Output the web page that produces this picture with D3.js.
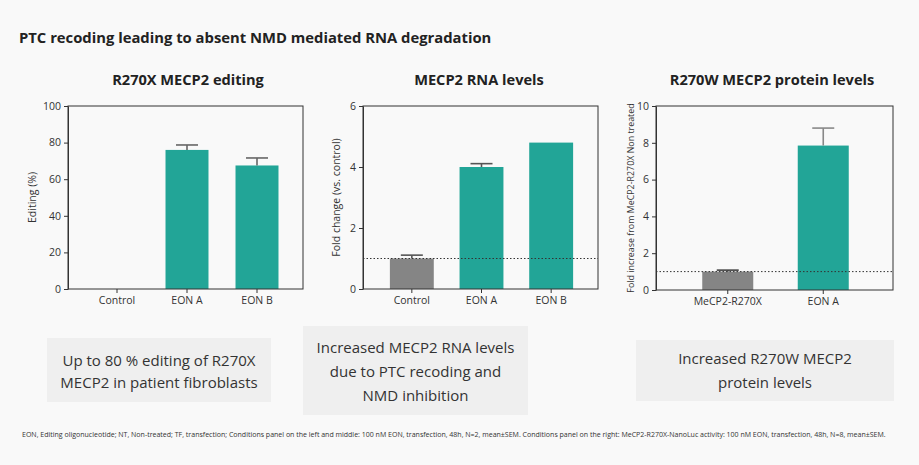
<!DOCTYPE html>
<html>
<head>
<meta charset="utf-8">
<script src="https://cdn.jsdelivr.net/npm/d3@7"></script>
<style>
  html, body { margin: 0; padding: 0; background: #f9f9f9; }
  svg { display: block; font-family: "Open Sans", "Noto Sans", sans-serif; }
</style>
</head>
<body>
<svg id="chart" width="919" height="465"></svg>
<script>
// data
const editCategories = ["Control", "EON A", "EON B"]
const editValues = [0, 76, 67.5]
const editErrors = [null, 2.7, 4.1]
const editTicks = [0, 20, 40, 60, 80, 100]

const rnaCategories = ["Control", "EON A", "EON B"]
const rnaValues = [1.0, 4.0, 4.8]
const rnaErrors = [0.11, 0.11, null]
const rnaTicks = [0, 2, 4, 6]

const protCategories = ["MeCP2-R270X", "EON A"]
const protValues = [1.0, 7.85]
const protErrors = [0.08, 0.95]
const protTicks = [0, 2, 4, 6, 8, 10]

const teal = "#22a597"
const grey = "#858585"

const svg = d3.select("#chart")

svg.append("text")
  .attr("x", 19).attr("y", 43)
  .attr("font-size", 14.8).attr("font-weight", 700).attr("fill", "#222")
  .text("PTC recoding leading to absent NMD mediated RNA degradation")

const panels = [
  {
    title: "R270X MECP2 editing", titleX: 188,
    ylabel: "Editing (%)", ylabelX: 32, ylabelSize: 10.5,
    cats: editCategories, vals: editValues, errs: editErrors, ticks: editTicks,
    colors: [teal, teal, teal], errColors: ["#666", "#666", "#666"],
    left: 68, right: 303, top: 106, bottom: 289,
    band: [82, 292], pad: 0.386, ref: null
  },
  {
    title: "MECP2 RNA levels", titleX: 479,
    ylabel: "Fold change (vs. control)", ylabelX: 336, ylabelSize: 10.5,
    cats: rnaCategories, vals: rnaValues, errs: rnaErrors, ticks: rnaTicks,
    colors: [grey, teal, teal], errColors: ["#555", "#555", "#555"],
    left: 363, right: 598, top: 106, bottom: 289,
    band: [377, 586], pad: 0.37, ref: 1
  },
  {
    title: "R270W MECP2 protein levels", titleX: 772,
    ylabel: "Fold increase from MeCP2-R270X Non treated", ylabelX: 631, ylabelSize: 8.9,
    cats: protCategories, vals: protValues, errs: protErrors, ticks: protTicks,
    colors: [grey, teal], errColors: ["#444", "#888"],
    left: 656, right: 893, top: 106, bottom: 290,
    band: [680, 871], pad: 0.466, ref: 1
  }
]

panels.forEach(p => {
  const g = svg.append("g")

  const x = d3.scaleBand()
    .domain(p.cats)
    .range(p.band)
    .paddingInner(p.pad)
    .paddingOuter(p.pad / 2)

  const y = d3.scaleLinear()
    .domain([0, d3.max(p.ticks)])
    .range([p.bottom, p.top])

  g.append("text")
    .attr("x", p.titleX).attr("y", 85)
    .attr("text-anchor", "middle")
    .attr("font-size", 14.6).attr("font-weight", 700).attr("fill", "#222")
    .text(p.title)

  // bars
  const rows = p.cats.map((c, i) => ({ cat: c, val: p.vals[i], err: p.errs[i], i }))

  g.selectAll(".bar")
    .data(rows.filter(d => d.val > 0))
    .enter().append("rect")
    .attr("x", d => x(d.cat))
    .attr("width", x.bandwidth())
    .attr("y", d => y(d.val))
    .attr("height", d => y(0) - y(d.val))
    .attr("fill", d => p.colors[d.i])

  // error bars (upper half only)
  const eb = g.selectAll(".err")
    .data(rows.filter(d => d.err != null && d.val > 0))
    .enter().append("g")
    .attr("stroke", d => p.errColors[d.i])
    .attr("stroke-width", 1.6)

  eb.append("line")
    .attr("x1", d => x(d.cat) + x.bandwidth() / 2)
    .attr("x2", d => x(d.cat) + x.bandwidth() / 2)
    .attr("y1", d => y(d.val))
    .attr("y2", d => y(d.val + d.err))

  eb.append("line")
    .attr("x1", d => x(d.cat) + x.bandwidth() / 2 - 11)
    .attr("x2", d => x(d.cat) + x.bandwidth() / 2 + 11)
    .attr("y1", d => y(d.val + d.err))
    .attr("y2", d => y(d.val + d.err))

  // reference line
  if (p.ref != null) {
    g.append("line")
      .attr("x1", p.left).attr("x2", p.right)
      .attr("y1", y(p.ref)).attr("y2", y(p.ref))
      .attr("stroke", "#333").attr("stroke-width", 1)
      .attr("stroke-dasharray", "1.5,2")
  }

  // frame
  g.append("rect")
    .attr("x", p.left).attr("y", p.top)
    .attr("width", p.right - p.left).attr("height", p.bottom - p.top)
    .attr("fill", "none").attr("stroke", "#333").attr("stroke-width", 1)

  // y axis
  const ya = g.append("g")
    .attr("transform", `translate(${p.left},0)`)
    .call(d3.axisLeft(y).tickValues(p.ticks).tickFormat(d3.format("d"))
      .tickSize(4).tickPadding(3).tickSizeOuter(0))
  ya.select(".domain").attr("stroke", "#333")
  ya.selectAll("line").attr("stroke", "#333")
  ya.selectAll("text").attr("font-size", 10.5).attr("fill", "#333")
    .attr("font-family", "Open Sans, sans-serif")

  // x axis
  const xa = g.append("g")
    .attr("transform", `translate(0,${p.bottom})`)
    .call(d3.axisBottom(x).tickSize(4).tickPadding(4).tickSizeOuter(0))
  xa.select(".domain").remove()
  xa.selectAll("line").attr("stroke", "#333")
  xa.selectAll("text").attr("font-size", 10.5).attr("fill", "#333")
    .attr("font-family", "Open Sans, sans-serif")

  // y label
  g.append("text")
    .attr("transform", `translate(${p.ylabelX},${(p.top + p.bottom) / 2}) rotate(-90)`)
    .attr("text-anchor", "middle")
    .attr("dy", "0.35em")
    .attr("font-size", p.ylabelSize).attr("fill", "#333")
    .text(p.ylabel)
})

// caption boxes
const captions = [
  { x: 47, y: 338, w: 224, h: 64, lines: ["Up to 80 % editing of R270X", "MECP2 in patient fibroblasts"], y0: 361, gap: 22 },
  { x: 303, y: 326, w: 225, h: 89, lines: ["Increased MECP2 RNA levels", "due to PTC recoding and", "NMD inhibition"], y0: 348, gap: 24 },
  { x: 636, y: 340, w: 258, h: 61, lines: ["Increased R270W MECP2", "protein levels"], y0: 359, gap: 24 }
]

captions.forEach(c => {
  svg.append("rect")
    .attr("x", c.x).attr("y", c.y).attr("width", c.w).attr("height", c.h)
    .attr("fill", "#efefef")
  svg.append("g").selectAll("text")
    .data(c.lines)
    .enter().append("text")
    .attr("x", c.x + c.w / 2)
    .attr("y", (d, i) => c.y0 + i * c.gap)
    .attr("dy", "0.35em")
    .attr("text-anchor", "middle")
    .attr("font-size", 15).attr("fill", "#333")
    .text(d => d)
})

svg.append("text")
  .attr("x", 22).attr("y", 437)
  .attr("font-size", 7.02).attr("fill", "#333")
  .text("EON, Editing oligonucleotide; NT, Non-treated; TF, transfection; Conditions panel on the left and middle: 100 nM EON, transfection, 48h, N=2, mean±SEM. Conditions panel on the right: MeCP2-R270X-NanoLuc activity: 100 nM EON, transfection, 48h, N=8, mean±SEM.")
</script>
</body>
</html>
